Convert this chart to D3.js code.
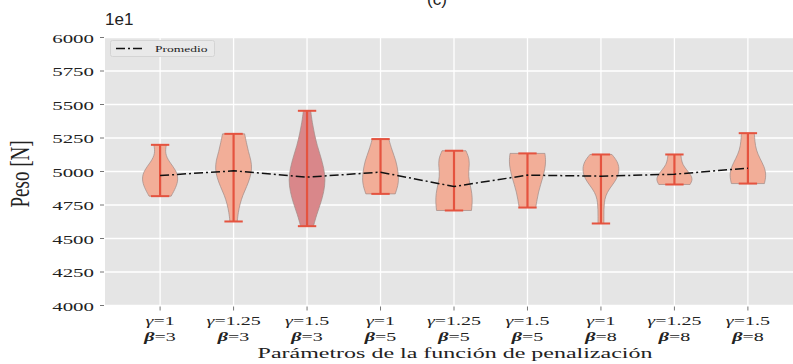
<!DOCTYPE html>
<html>
<head>
<meta charset="utf-8">
<script src="https://cdn.jsdelivr.net/npm/d3@7"></script>
<style>
  body { margin: 0; background: #fff; }
  svg { display: block; }
</style>
</head>
<body>
<div id="maincontainer"></div>
<script>
// tick labels
var gammaLabels = ["1", "1.25", "1.5", "1", "1.25", "1.5", "1", "1.25", "1.5"];
var betaLabels = ["3", "3", "3", "5", "5", "5", "8", "8", "8"];
var yTicks = [4000, 4250, 4500, 4750, 5000, 5250, 5500, 5750, 6000];

// violin extremes and means
var maxVals = [5199, 5281, 5453, 5242, 5155, 5135, 5127, 5127, 5286];
var minVals = [4816, 4627, 4592, 4833, 4709, 4731, 4612, 4903, 4910];
var meanVals = [4970, 5005, 4958, 4995, 4888, 4973, 4965, 4980, 5025];

// relative half-widths of each violin, from max (first) down to min (last)
var profiles = [
  [0.34, 0.26, 0.50, 0.88, 1.00, 0.86, 0.60],
  [0.60, 0.70, 0.80, 0.95, 1.00, 0.90, 0.72, 0.50, 0.35, 0.25, 0.20],
  [0.20, 0.28, 0.40, 0.55, 0.75, 0.92, 1.00, 0.92, 0.75, 0.52, 0.35],
  [0.45, 0.62, 0.85, 0.96, 1.00, 0.80],
  [0.65, 0.85, 0.82, 0.78, 0.88, 0.98, 1.00, 0.95],
  [0.95, 1.00, 0.95, 0.85, 0.72, 0.60, 0.52, 0.45],
  [0.60, 0.90, 1.00, 0.95, 0.75, 0.45, 0.25, 0.18, 0.16, 0.16, 0.16],
  [0.35, 0.38, 0.45, 0.65, 0.88, 1.00, 0.85],
  [0.35, 0.38, 0.45, 0.65, 0.90, 1.00, 0.90]
];
var darkViolin = 2;

var W = 793, H = 364;
var SERIF = "Liberation Serif";
var svg = d3.select("#maincontainer")
    .append("svg")
    .attr("width", W)
    .attr("height", H);

var x = d3.scaleLinear().domain([0.25, 9.75]).range([105, 803]);
var y = d3.scaleLinear().domain([4000, 6000]).range([305.5, 37.5]);
var positions = d3.range(1, 10);
var halfW = x(1.25) - x(1);

// stretched serif text, like the squashed original
function stext(g, tx, ty, str, size, sx, anchor) {
    return g.append("text")
        .attr("transform", "translate(" + tx + "," + ty + ") scale(" + sx + ",1)")
        .attr("text-anchor", anchor || "middle")
        .attr("font-family", SERIF)
        .attr("font-size", size)
        .attr("fill", "#222")
        .text(str);
}

// background
svg.append("rect")
    .attr("x", x(0.25)).attr("y", y(6000))
    .attr("width", x(9.75) - x(0.25)).attr("height", y(4000) - y(6000))
    .attr("fill", "#e5e5e5");

// grid
svg.selectAll("line.hgrid")
    .data(yTicks)
    .enter().append("line")
    .attr("class", "hgrid")
    .attr("x1", x(0.25)).attr("x2", x(9.75))
    .attr("y1", function(d) { return y(d); })
    .attr("y2", function(d) { return y(d); })
    .attr("stroke", "#fff").attr("stroke-width", 1.3);

svg.selectAll("line.vgrid")
    .data(positions)
    .enter().append("line")
    .attr("class", "vgrid")
    .attr("x1", function(d) { return x(d); })
    .attr("x2", function(d) { return x(d); })
    .attr("y1", y(6000)).attr("y2", y(4000))
    .attr("stroke", "#fff").attr("stroke-width", 1.3);

// tick marks
svg.selectAll("line.ytick")
    .data(yTicks)
    .enter().append("line")
    .attr("x1", x(0.25) - 5).attr("x2", x(0.25) - 1)
    .attr("y1", function(d) { return y(d); })
    .attr("y2", function(d) { return y(d); })
    .attr("stroke", "#777").attr("stroke-width", 1);

svg.selectAll("line.xtick")
    .data(positions)
    .enter().append("line")
    .attr("x1", function(d) { return x(d); })
    .attr("x2", function(d) { return x(d); })
    .attr("y1", y(4000) + 1).attr("y2", y(4000) + 5)
    .attr("stroke", "#777").attr("stroke-width", 1);

// y tick labels
yTicks.forEach(function(d) {
    stext(svg, 94, y(d) + 5, d, 13.5, 1.55, "end");
});

// x tick labels
positions.forEach(function(p, i) {
    var t = stext(svg, x(p), 325, "", 12.5, 1.6);
    t.append("tspan").attr("font-style", "italic").text("\u03b3");
    t.append("tspan").text("=" + gammaLabels[i]);
    var b = stext(svg, x(p), 341, "", 12.5, 1.6);
    b.append("tspan").attr("font-style", "italic").attr("font-weight", "bold").text("\u03b2");
    b.append("tspan").text("=" + betaLabels[i]);
});

// axis labels
stext(svg, 455, 358, "Parámetros de la función de penalización", 15, 1.6);
svg.append("text")
    .attr("transform", "translate(29,174) rotate(-90) scale(1,1.4)")
    .attr("text-anchor", "middle")
    .attr("font-family", SERIF)
    .attr("font-size", 19)
    .attr("fill", "#222")
    .text("Peso [N]");

// offset text and title
svg.append("text")
    .attr("x", 105).attr("y", 25)
    .attr("font-family", "Liberation Sans")
    .attr("font-size", 17)
    .attr("fill", "#222")
    .text("1e1");
svg.append("text")
    .attr("x", 437).attr("y", 5)
    .attr("text-anchor", "middle")
    .attr("font-family", "Liberation Sans")
    .attr("font-size", 17)
    .attr("fill", "#222")
    .text("(c)");

// violins
var area = d3.area()
    .curve(d3.curveBasis)
    .y(function(d) { return y(d.v); })
    .x0(function(d) { return d.cx - d.w * halfW; })
    .x1(function(d) { return d.cx + d.w * halfW; });

profiles.forEach(function(prof, i) {
    var cx = x(positions[i]);
    var pts = prof.map(function(w, k) {
        var t = k / (prof.length - 1);
        return { v: maxVals[i] - t * (maxVals[i] - minVals[i]), w: w, cx: cx };
    });
    svg.append("path")
        .attr("d", area(pts))
        .attr("fill", i === darkViolin ? "#d9878a" : "#f2ae98")
        .attr("stroke", "#a08a86")
        .attr("stroke-opacity", 0.7)
        .attr("stroke-width", 1);
});

// bars and caps
var capW = halfW / 2;
positions.forEach(function(p, i) {
    var cx = x(p);
    svg.append("line")
        .attr("x1", cx).attr("x2", cx)
        .attr("y1", y(maxVals[i])).attr("y2", y(minVals[i]))
        .attr("stroke", "#e5533f").attr("stroke-width", 2.2);
    [maxVals[i], minVals[i]].forEach(function(v) {
        svg.append("line")
            .attr("x1", cx - capW).attr("x2", cx + capW)
            .attr("y1", y(v)).attr("y2", y(v))
            .attr("stroke", "#e5533f").attr("stroke-width", 2);
    });
});

// mean line
var line = d3.line()
    .x(function(d, i) { return x(positions[i]); })
    .y(function(d) { return y(d); });

svg.append("path")
    .datum(meanVals)
    .attr("d", line)
    .attr("fill", "none")
    .attr("stroke", "#111")
    .attr("stroke-width", 1.5)
    .attr("stroke-dasharray", "9,3,2,3");

// legend
var leg = svg.append("g");
leg.append("rect")
    .attr("x", 110.5).attr("y", 40.5)
    .attr("width", 104).attr("height", 16)
    .attr("rx", 2)
    .attr("fill", "#e9e9e9")
    .attr("stroke", "#d4d4d4");
leg.append("line")
    .attr("x1", 116).attr("x2", 144)
    .attr("y1", 48.5).attr("y2", 48.5)
    .attr("stroke", "#111").attr("stroke-width", 1.5)
    .attr("stroke-dasharray", "9,3,2,3");
stext(leg, 155, 52, "Promedio", 9, 1.5, "start");
</script>
</body>
</html>
